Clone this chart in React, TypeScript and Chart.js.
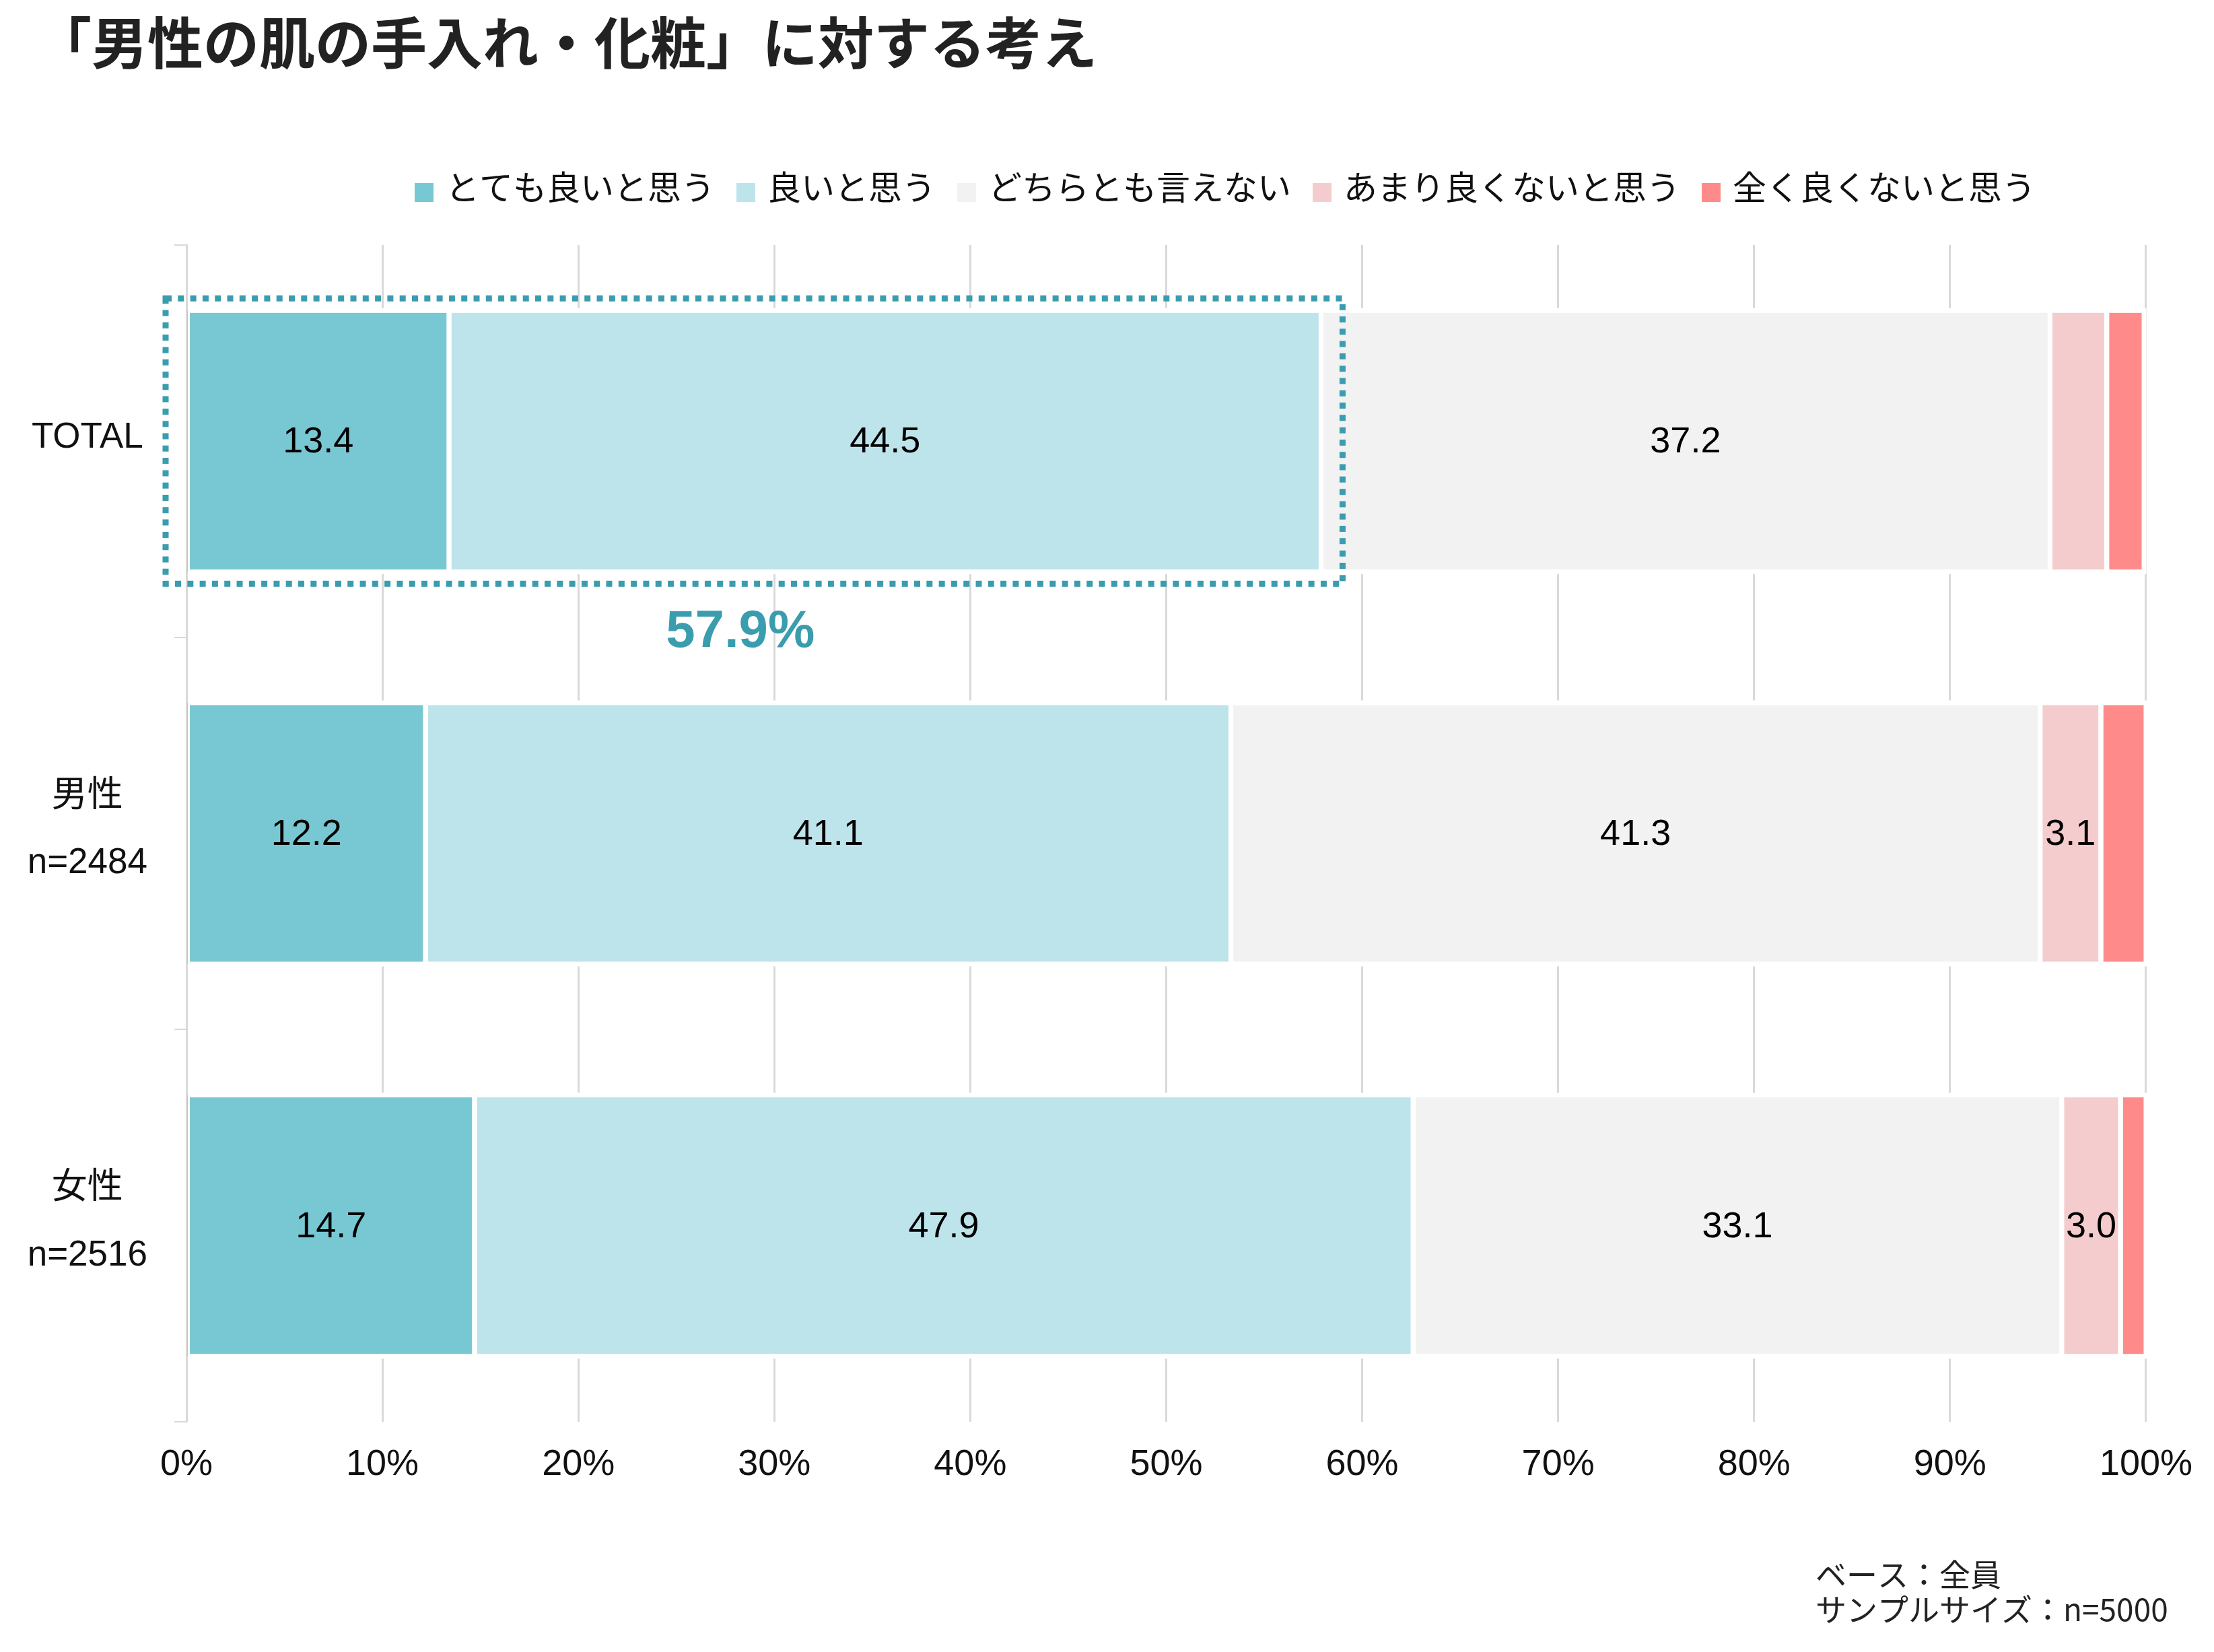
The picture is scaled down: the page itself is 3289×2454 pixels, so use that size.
import React, { useEffect, useRef } from "react";
import { Chart, registerables } from "chart.js";

Chart.register(...registerables);

const TITLE = "「男性の肌の手入れ・化粧」に対する考え";
const FOOTNOTES = ["ベース：全員", "サンプルサイズ：n=5000"];
const CATEGORIES: (string | string[])[] = ["TOTAL", ["男性", "n=2484"], ["女性", "n=2516"]];
const SERIES_NAMES = ["とても良いと思う", "良いと思う", "どちらとも言えない", "あまり良くないと思う", "全く良くないと思う"];
const SERIES_COLORS = ["#78C8D4", "#BEE4EB", "#F2F2F2", "#F4CCCD", "#FF8A8A"];
const VERY_GOOD = [13.4, 12.2, 14.7];
const GOOD = [44.5, 41.1, 47.9];
const NEUTRAL = [37.2, 41.3, 33.1];
const NOT_GOOD = [2.9, 3.1, 3.0];
const NOT_AT_ALL = [1.9, 2.3, 1.3];
const X_TICKS = [0, 10, 20, 30, 40, 50, 60, 70, 80, 90, 100];
const LABEL_MIN = 3.0;

const ACCENT = "#3A9DAE";
const LATIN = "'Liberation Sans', 'Noto Sans CJK JP', sans-serif";
const CJK = "'Noto Sans CJK JP', 'Liberation Sans', sans-serif";

const decorPlugin = {
  id: "decor",
  afterDatasetsDraw(chart: any) {
    const ctx = chart.ctx as CanvasRenderingContext2D;
    const area = chart.chartArea;
    // white outlines around segments
    ctx.save();
    ctx.beginPath();
    ctx.rect(area.left + 2, 0, chart.width, chart.height);
    ctx.clip();
    ctx.strokeStyle = "#ffffff";
    ctx.lineWidth = 7;
    chart.data.datasets.forEach((_ds: any, i: number) => {
      const meta = chart.getDatasetMeta(i);
      meta.data.forEach((el: any) => {
        const p = el.getProps(["x", "y", "base", "height"], true);
        const l = Math.min(p.x, p.base);
        const r = Math.max(p.x, p.base);
        ctx.strokeRect(l, p.y - p.height / 2, r - l, p.height);
      });
    });
    ctx.restore();

    // value labels
    ctx.save();
    ctx.font = `54px ${LATIN}`;
    ctx.fillStyle = "#000000";
    ctx.textAlign = "center";
    ctx.textBaseline = "middle";
    chart.data.datasets.forEach((ds: any, i: number) => {
      const meta = chart.getDatasetMeta(i);
      meta.data.forEach((el: any, j: number) => {
        const v = ds.data[j];
        if (v < LABEL_MIN) return;
        const p = el.getProps(["x", "y", "base"], true);
        ctx.fillText(v.toFixed(1), (p.x + p.base) / 2, p.y + 2);
      });
    });
    ctx.restore();

    // highlight box around TOTAL positive answers
    const xs = chart.scales.x;
    const e0 = chart.getDatasetMeta(0).data[0] as any;
    const e1 = chart.getDatasetMeta(1).data[0] as any;
    const p0 = e0.getProps(["y", "height"], true);
    const p1 = e1.getProps(["x"], true);
    const left = xs.getPixelForValue(0) - 31;
    const right = p1.x + 32;
    const top = p0.y - p0.height / 2 - 18;
    const bottom = p0.y + p0.height / 2 + 18;
    ctx.save();
    ctx.strokeStyle = ACCENT;
    ctx.lineWidth = 9;
    ctx.setLineDash([9, 9.3]);
    ctx.strokeRect(left, top, right - left, bottom - top);
    ctx.restore();

    const sum = VERY_GOOD[0] + GOOD[0];
    ctx.save();
    ctx.font = `bold 78px ${LATIN}`;
    ctx.fillStyle = ACCENT;
    ctx.textAlign = "center";
    ctx.textBaseline = "middle";
    ctx.fillText(`${sum.toFixed(1)}%`, xs.getPixelForValue(sum / 2) - 20, bottom + 72);
    ctx.restore();
  },
  afterDraw(chart: any) {
    const ctx = chart.ctx as CanvasRenderingContext2D;
    // title
    ctx.save();
    ctx.font = `bold 83px ${CJK}`;
    ctx.fillStyle = "#222222";
    ctx.textAlign = "left";
    ctx.textBaseline = "middle";
    ctx.fillText(TITLE, 53, 63);
    ctx.restore();

    // legend
    ctx.save();
    ctx.font = `50px ${CJK}`;
    ctx.textAlign = "left";
    ctx.textBaseline = "middle";
    let x = 616;
    chart.data.datasets.forEach((ds: any) => {
      ctx.fillStyle = ds.backgroundColor;
      ctx.fillRect(x, 272, 28, 28);
      ctx.fillStyle = "#111111";
      ctx.fillText(ds.label, x + 46, 278);
      x += 46 + ctx.measureText(ds.label).width + 32;
    });
    ctx.restore();

    // footnote
    ctx.save();
    ctx.font = `46px ${CJK}`;
    ctx.fillStyle = "#222222";
    ctx.textAlign = "left";
    ctx.textBaseline = "middle";
    FOOTNOTES.forEach((t, i) => ctx.fillText(t, 2697, 2339 + i * 52));
    ctx.restore();
  },
};

export default function App() {
  const ref = useRef<HTMLCanvasElement | null>(null);
  useEffect(() => {
    if (!ref.current) return;
    const seriesValues = [VERY_GOOD, GOOD, NEUTRAL, NOT_GOOD, NOT_AT_ALL];
    const chart = new Chart(ref.current, {
      type: "bar",
      data: {
        labels: CATEGORIES as any,
        datasets: seriesValues.map((vals, i) => ({
          label: SERIES_NAMES[i],
          data: vals,
          backgroundColor: SERIES_COLORS[i],
          borderWidth: 0,
          categoryPercentage: 1,
          barPercentage: 0.666,
        })),
      },
      options: {
        indexAxis: "y",
        responsive: false,
        animation: false,
        layout: { padding: { top: 364, left: 0, right: 101, bottom: 242 } },
        plugins: {
          legend: { display: false },
          title: { display: false },
          tooltip: { enabled: false },
        },
        scales: {
          x: {
            stacked: true,
            min: 0,
            max: 100,
            afterFit: (s: any) => {
              s.height = 100;
            },
            afterBuildTicks: (s: any) => {
              s.ticks = X_TICKS.map((v) => ({ value: v }));
            },
            ticks: {
              padding: 32,
              color: "#111111",
              font: { family: LATIN, size: 54 },
              callback: (v: any) => `${v}%`,
            },
            grid: { color: "#D9D9D9", lineWidth: 3, drawTicks: false },
            border: { display: false },
          },
          y: {
            stacked: true,
            afterFit: (s: any) => {
              s.width = 277;
            },
            ticks: {
              padding: 40,
              labelOffset: -5,
              crossAlign: "center",
              color: "#111111",
              font: { family: LATIN, size: 53, lineHeight: 1.88 },
            },
            grid: {
              drawOnChartArea: false,
              drawTicks: true,
              tickLength: 18,
              color: "#D9D9D9",
              lineWidth: 2,
              offset: true,
            },
            border: { display: true, color: "#D9D9D9", width: 3 },
          },
        },
      },
      plugins: [decorPlugin],
    });
    return () => chart.destroy();
  }, []);
  return (
    <div style={{ position: "fixed", left: 0, top: 0, width: 3289, height: 2454, background: "#ffffff" }}>
      <canvas ref={ref} width={3289} height={2454} style={{ width: 3289, height: 2454, display: "block" }} />
    </div>
  );
}
